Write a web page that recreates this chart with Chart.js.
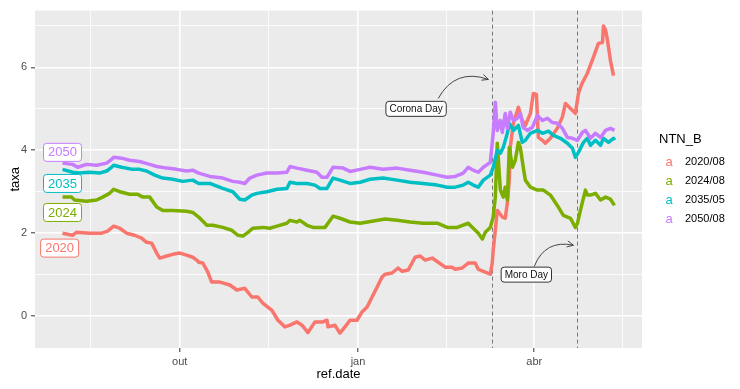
<!DOCTYPE html>
<html lang="pt">
<head>
<meta charset="UTF-8" />
<title>NTN-B – taxa</title>
<script src="https://cdn.jsdelivr.net/npm/chart.js"></script>
<style>
  html, body { margin: 0; padding: 0; background: #fff; }
</style>
</head>
<body>
<canvas id="chart" width="740" height="389"></canvas>
<script>
// ref.date in days counted from 2019-10-01 (out = 0, jan = 92, abr = 183)
const seriesNames = ['2020/08', '2024/08', '2035/05', '2050/08'];
const shortNames  = ['2020', '2024', '2035', '2050'];
const colors      = ['#F8766D', '#7CAE00', '#00BFC4', '#C77CFF'];

const days2020 = [-60.5,-55.3,-53.3,-46.5,-40.3,-37.2,-34.1,-31,-27.4,-23.3,-19.7,-17.1,-14.5,-11.9,-10.3,-6.7,-3.6,0,3.6,6.7,8.8,9.8,11.9,14.5,16.5,20.7,25.9,29.5,33.6,37.2,40.3,42.9,47.6,50.7,54.3,56.9,60.5,63.1,66.2,69.8,73.9,76,76.5,80.1,82.7,85.3,87.9,91.5,94.1,96.7,99.3,101.9,104.4,106,109.6,112.7,114.8,117.9,121.5,124.1,126.7,130.3,133.4,137,140.6,142.2,145.8,148.9,152.5,154.1,156.7,160.3,161.3,161.8,162.9,163.9,166.5,168,169.1,170.1,170.6,172.2,174.8,176.8,178.4,181,182.5,184.1,185.1,187.2,188.7,191.3,194.9,197.5,199.1,201.7,204.2,205.8,207.5,210.4,213.5,216.1,218.2,218.7,219.8,220.8,222.3,223.9];
const taxa2020 = [2.0,1.95,2.02,2.0,2.0,2.05,2.17,2.12,2.0,1.95,1.88,1.78,1.76,1.52,1.4,1.45,1.49,1.52,1.47,1.42,1.35,1.3,1.28,1.06,0.82,0.82,0.75,0.63,0.67,0.46,0.46,0.31,0.14,-0.1,-0.26,-0.22,-0.14,-0.22,-0.4,-0.14,-0.14,-0.1,-0.26,-0.22,-0.41,-0.26,-0.1,-0.1,0.1,0.22,0.46,0.7,0.94,1.01,1.04,1.16,1.08,1.11,1.42,1.45,1.35,1.4,1.3,1.18,1.18,1.13,1.16,1.28,1.28,1.13,1.08,1.01,1.28,1.59,2.07,2.55,2.39,2.36,2.72,3.3,4.07,4.65,5.04,4.72,4.6,4.89,5.37,5.35,4.31,4.24,4.17,4.29,4.53,4.8,5.13,5.01,4.89,5.37,5.6,5.86,6.24,6.58,6.6,7.0,6.9,6.65,6.17,5.8];

const days2024 = [-60.5,-55.8,-54.3,-48.1,-42.9,-39.8,-36.2,-34.1,-31,-25.9,-21.7,-19.1,-15.5,-11.9,-8.8,-3.6,3.6,6.7,9.8,14,17.1,22.2,26.9,30,32.6,35.2,37.7,42.9,46.5,50.2,55.3,56.9,60.5,62,65.7,68.8,75,79.1,82.7,87.9,93.1,99.3,106,112.2,118.9,125.6,132.9,138.1,143.2,148.9,151.5,154.1,156.2,157.7,160.3,161.8,162.9,163.9,165.5,167,168,169.1,170.1,171.7,173.2,174.8,175.8,177.3,178.4,181,184.6,187.7,191.3,194.9,198,201.7,204.2,205.3,206.8,209.4,210.4,212,214.6,217.2,219.8,222.3,224.4];
const taxa2024 = [2.87,2.87,2.8,2.77,2.8,2.87,2.96,3.06,3.0,2.94,2.94,2.87,2.87,2.63,2.55,2.55,2.53,2.5,2.39,2.19,2.19,2.14,2.07,1.95,1.93,2.02,2.12,2.14,2.12,2.17,2.24,2.31,2.27,2.31,2.19,2.14,2.14,2.41,2.36,2.27,2.24,2.29,2.34,2.31,2.27,2.24,2.24,2.14,2.14,2.24,2.12,2.0,1.86,2.02,2.14,2.39,2.87,4.17,3.04,2.87,3.11,2.8,4.07,3.59,3.76,4.19,4.07,3.59,3.28,3.11,3.04,3.04,2.92,2.67,2.43,2.36,2.14,2.24,2.55,3.04,2.92,2.92,2.96,2.8,2.87,2.82,2.67];

const days2035 = [-60.5,-55.3,-51.7,-46.5,-41.4,-37.7,-35.2,-34.1,-30,-24.3,-20.7,-17.1,-12.9,-8.8,-3.6,1.6,6.7,9.8,15.5,22.2,27.4,31,33.6,37.2,39.8,45,50.2,55.3,56.9,60.5,65.7,69.8,72.4,76,79.1,82.7,87.9,93.1,98.2,105,112.2,118.9,125.6,132.9,138.1,142.2,146.3,148.9,151.5,154.1,156.7,160.3,161.8,163.9,165.5,167,169.1,170.1,172.2,174.8,176.8,178.4,181,184.6,187.2,190.3,192.9,196.5,200.1,202.7,204.2,205.8,208.4,210.4,212,214.6,217.2,218.7,221.3,223.9,224.4];
const taxa2035 = [3.54,3.47,3.45,3.47,3.45,3.5,3.59,3.64,3.59,3.54,3.54,3.5,3.4,3.33,3.3,3.25,3.28,3.2,3.2,3.08,3.0,2.82,2.8,2.92,2.96,3.0,3.06,3.08,3.23,3.2,3.2,3.16,3.08,3.08,3.33,3.28,3.2,3.23,3.3,3.33,3.28,3.23,3.2,3.16,3.11,3.11,3.16,3.23,3.16,3.11,3.28,3.4,3.59,4.0,3.93,4.07,4.41,4.65,4.48,4.6,4.19,4.24,4.41,4.48,4.41,4.46,4.36,4.29,4.17,4.05,3.83,3.95,4.19,4.29,4.12,4.24,4.12,4.29,4.19,4.29,4.24];

const days2050 = [-60.5,-55.3,-52.7,-48.1,-42.9,-37.7,-35.2,-34.1,-30,-25.9,-20.7,-15.5,-11.9,-6.7,-1.6,3.6,6.7,9.8,15.5,22.2,27.4,31,33.6,36.2,39.8,45,50.2,55.3,56.9,60.5,65.7,70.8,73.4,76,79.1,84.3,87.9,93.1,98.2,105,112.2,118.9,125.6,132.9,138.1,142.2,146.3,148.9,151.5,154.1,156.7,160.3,161.8,162.9,163.9,165.5,166.5,168,169.1,170.6,172.2,174.2,175.8,177.3,179.4,182,184.6,187.2,189.8,192.3,194.9,197.5,200.1,202.7,205.3,207.8,209.4,212,214.6,217.2,219.8,222.3,224.4];
const taxa2050 = [3.69,3.66,3.59,3.66,3.64,3.69,3.78,3.83,3.81,3.76,3.73,3.66,3.61,3.57,3.54,3.5,3.52,3.45,3.37,3.33,3.25,3.23,3.2,3.33,3.4,3.45,3.45,3.47,3.61,3.57,3.52,3.47,3.35,3.35,3.59,3.57,3.49,3.54,3.59,3.54,3.57,3.52,3.47,3.4,3.35,3.37,3.45,3.59,3.52,3.47,3.59,3.71,4.41,5.16,4.48,4.72,4.43,4.89,4.53,4.92,4.72,4.77,4.89,4.55,4.48,4.55,4.84,4.72,4.77,4.67,4.65,4.53,4.31,4.29,4.24,4.43,4.48,4.29,4.41,4.31,4.48,4.53,4.48];

const allDays = [days2020, days2024, days2035, days2050];
const allTaxa = [taxa2020, taxa2024, taxa2035, taxa2050];

// axis breaks
const xTickDays   = [0, 92, 183];
const xTickLabels = ['out', 'jan', 'abr'];
const xMinorDays  = [-46, 46, 137.5, 228.5];
const yTicks      = [0, 2, 4, 6];
const yMinor      = [1, 3, 5, 7];

// events
const eventDays   = [161.3, 205.3];
const eventNames  = ['Corona Day', 'Moro Day'];

Chart.defaults.font.family = '"Liberation Sans", Arial, sans-serif';

// label anchors (data coords)
const seriesLabels = [
  { x: -62,   y: 1.64 },
  { x: -60.5, y: 2.5 },
  { x: -60.5, y: 3.2 },
  { x: -60.5, y: 3.95 }
];
const eventLabels = [
  { x: 122, y: 5.0,  from: { x: 133.4, y: 5.25 }, to: { x: 159.3, y: 5.71 } },
  { x: 178.9, y: 1.0, from: { x: 183, y: 1.2 },   to: { x: 203.2, y: 1.71 } }
];

function roundRect(ctx, x, y, w, h, r) {
  ctx.beginPath();
  ctx.moveTo(x + r, y);
  ctx.lineTo(x + w - r, y);
  ctx.arcTo(x + w, y, x + w, y + r, r);
  ctx.lineTo(x + w, y + h - r);
  ctx.arcTo(x + w, y + h, x + w - r, y + h, r);
  ctx.lineTo(x + r, y + h);
  ctx.arcTo(x, y + h, x, y + h - r, r);
  ctx.lineTo(x, y + r);
  ctx.arcTo(x, y, x + r, y, r);
  ctx.closePath();
}

function drawLabel(ctx, text, cx, cy, size, color, border) {
  ctx.font = size + 'px "Liberation Sans", Arial, sans-serif';
  const w = ctx.measureText(text).width + size * 0.7;
  const h = size + 5;
  roundRect(ctx, cx - w / 2, cy - h / 2, w, h, 3);
  ctx.fillStyle = '#fff';
  ctx.fill();
  ctx.lineWidth = 1;
  ctx.strokeStyle = border;
  ctx.stroke();
  ctx.fillStyle = color;
  ctx.textAlign = 'center';
  ctx.textBaseline = 'middle';
  ctx.fillText(text, cx, cy + 0.5);
}

const panelBg = {
  id: 'panelBg',
  beforeDraw(chart) {
    const { ctx, chartArea: a } = chart;
    ctx.save();
    ctx.fillStyle = '#ebebeb';
    ctx.fillRect(a.left, a.top, a.right - a.left, a.bottom - a.top);
    ctx.restore();
  },
  beforeDatasetsDraw(chart) {
    const { ctx, chartArea: a, scales } = chart;
    ctx.save();
    ctx.strokeStyle = '#777';
    ctx.lineWidth = 1;
    ctx.setLineDash([4, 3]);
    eventDays.forEach(d => {
      const px = Math.round(scales.x.getPixelForValue(d)) + 0.5;
      ctx.beginPath();
      ctx.moveTo(px, a.top);
      ctx.lineTo(px, a.bottom);
      ctx.stroke();
    });
    ctx.restore();
  }
};

const annotations = {
  id: 'annotations',
  afterDatasetsDraw(chart) {
    const { ctx, scales: { x, y }, chartArea: a } = chart;
    ctx.save();
    // curved arrows
    eventLabels.forEach(e => {
      const sx = x.getPixelForValue(e.from.x), sy = y.getPixelForValue(e.from.y);
      const ex = x.getPixelForValue(e.to.x),   ey = y.getPixelForValue(e.to.y);
      const mx = (sx + ex) / 2, my = (sy + ey) / 2;
      const dx = ex - sx, dy = ey - sy, len = Math.hypot(dx, dy);
      const px = dy / len, py = -dx / len;
      const cx = mx + px * len * 0.42, cy = my + py * len * 0.42;
      ctx.strokeStyle = '#333';
      ctx.lineWidth = 0.9;
      ctx.beginPath();
      ctx.moveTo(sx, sy);
      ctx.quadraticCurveTo(cx, cy, ex, ey);
      ctx.stroke();
      const ang = Math.atan2(ey - cy, ex - cx);
      ctx.beginPath();
      ctx.moveTo(ex - 7 * Math.cos(ang - 0.45), ey - 7 * Math.sin(ang - 0.45));
      ctx.lineTo(ex, ey);
      ctx.lineTo(ex - 7 * Math.cos(ang + 0.45), ey - 7 * Math.sin(ang + 0.45));
      ctx.stroke();
    });
    eventLabels.forEach((e, i) => {
      drawLabel(ctx, eventNames[i], x.getPixelForValue(e.x), y.getPixelForValue(e.y), 10, '#111', '#333');
    });
    seriesLabels.forEach((l, i) => {
      drawLabel(ctx, shortNames[i], x.getPixelForValue(l.x), y.getPixelForValue(l.y), 13, colors[i], colors[i]);
    });

    // legend
    const lx = a.right + 17;
    ctx.textAlign = 'left';
    ctx.textBaseline = 'middle';
    ctx.fillStyle = '#000';
    ctx.font = '13px "Liberation Sans", Arial, sans-serif';
    ctx.fillText('NTN_B', lx, 139);
    seriesNames.forEach((n, i) => {
      const ry = 162 + i * 19;
      ctx.font = '13px "Liberation Sans", Arial, sans-serif';
      ctx.fillStyle = colors[i];
      ctx.textAlign = 'center';
      ctx.fillText('a', lx + 10, ry);
      ctx.font = '11px "Liberation Sans", Arial, sans-serif';
      ctx.fillStyle = '#000';
      ctx.textAlign = 'left';
      ctx.fillText(n, lx + 26, ry);
    });
    ctx.restore();
  }
};

const datasets = seriesNames.map((name, i) => ({
  label: name,
  data: allDays[i].map((d, j) => ({ x: d, y: allTaxa[i][j] })),
  borderColor: colors[i],
  borderWidth: 3.5,
  borderJoinStyle: 'round',
  pointRadius: 0,
  tension: 0,
  fill: false,
  order: 3 - i
}));

new Chart(document.getElementById('chart'), {
  type: 'line',
  data: { datasets },
  plugins: [panelBg, annotations],
  options: {
    responsive: false,
    animation: false,
    layout: { padding: { left: 0, top: 10, right: 98, bottom: 0 } },
    plugins: { legend: { display: false }, tooltip: { enabled: false } },
    scales: {
      x: {
        type: 'linear',
        min: -74.7,
        max: 238.6,
        afterBuildTicks: s => { s.ticks = [...xMinorDays, ...xTickDays].sort((a, b) => a - b).map(v => ({ value: v })); },
        afterFit: s => { s.height = 41; },
        ticks: {
          autoSkip: false, maxRotation: 0, padding: 3,
          color: '#4d4d4d', font: { size: 11 },
          callback: v => { const k = xTickDays.indexOf(v); return k >= 0 ? xTickLabels[k] : ''; }
        },
        grid: {
          color: '#fff',
          lineWidth: c => (c.tick && xTickDays.includes(c.tick.value)) ? 1.6 : 0.8,
          tickLength: 4,
          tickColor: c => (c.tick && xTickDays.includes(c.tick.value)) ? '#333' : 'rgba(0,0,0,0)',
          tickWidth: 1
        },
        border: { display: false },
        title: { display: true, text: 'ref.date', color: '#000', font: { size: 13 }, padding: { top: 0, bottom: 7 } }
      },
      y: {
        min: -0.77,
        max: 7.37,
        afterBuildTicks: s => { s.ticks = [...yTicks, ...yMinor].sort((a, b) => a - b).map(v => ({ value: v })); },
        afterFit: s => { s.width = 35; },
        ticks: {
          padding: 4, color: '#4d4d4d', font: { size: 11 },
          callback: v => yTicks.includes(v) ? String(v) : ''
        },
        grid: {
          color: '#fff',
          lineWidth: c => (c.tick && yTicks.includes(c.tick.value)) ? 1.6 : 0.8,
          tickLength: 4,
          tickColor: c => (c.tick && yTicks.includes(c.tick.value)) ? '#333' : 'rgba(0,0,0,0)',
          tickWidth: 1
        },
        border: { display: false },
        title: { display: true, text: 'taxa', color: '#000', font: { size: 13 }, padding: { top: 8, bottom: 0 } }
      }
    }
  }
});
</script>
</body>
</html>
